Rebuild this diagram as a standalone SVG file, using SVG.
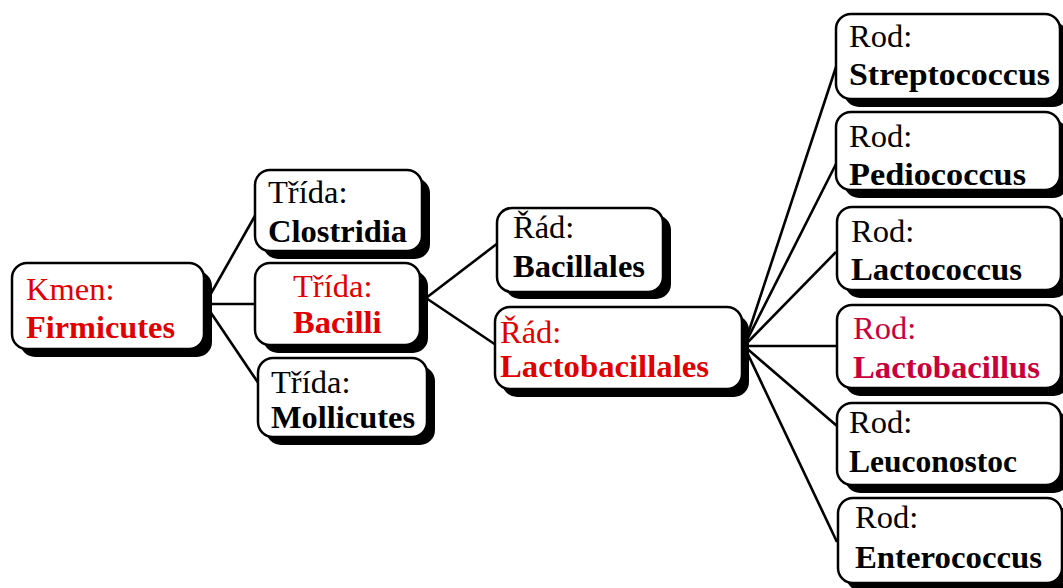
<svg xmlns="http://www.w3.org/2000/svg" width="1063" height="588" viewBox="0 0 1063 588">
<style>
.bx{fill:#fff;stroke:#000;stroke-width:2.5}
.sh{fill:#000}
.t{font-family:"Liberation Serif","Times New Roman",serif;font-size:32.5px;fill:#000}
.b{font-weight:bold}
.r{fill:#e00000}
.m{fill:#c8003c}
.c{stroke:#000;stroke-width:2.6;fill:none}
</style>
<rect width="1063" height="588" fill="#fff"/>
<g id="connectors">
<line class="c" x1="205" y1="304" x2="256" y2="214"/>
<line class="c" x1="205" y1="304" x2="256" y2="304"/>
<line class="c" x1="205" y1="304" x2="259" y2="384"/>
<line class="c" x1="426" y1="298" x2="498" y2="243"/>
<line class="c" x1="426" y1="298" x2="496" y2="345"/>
<line class="c" x1="744" y1="346" x2="837" y2="64"/>
<line class="c" x1="744" y1="346" x2="837" y2="162"/>
<line class="c" x1="744" y1="346" x2="836" y2="252"/>
<line class="c" x1="744" y1="346" x2="837" y2="346"/>
<line class="c" x1="744" y1="346" x2="837" y2="426"/>
<line class="c" x1="744" y1="346" x2="837" y2="542"/>
</g>
<g id="kmen">
<rect class="sh" x="20" y="271" width="192" height="86" rx="15"/>
<rect class="bx" x="12" y="263" width="192" height="86" rx="15"/>
<text class="t r" x="26" y="300">Kmen:</text>
<text class="t b r" x="26" y="338" textLength="149" lengthAdjust="spacingAndGlyphs">Firmicutes</text>
</g>
<g id="clostridia">
<rect class="sh" x="263" y="178" width="167" height="81" rx="15"/>
<rect class="bx" x="255" y="170" width="167" height="81" rx="15"/>
<text class="t" x="268" y="203">Třída:</text>
<text class="t b" x="268" y="242" textLength="139" lengthAdjust="spacingAndGlyphs">Clostridia</text>
</g>
<g id="bacilli">
<rect class="sh" x="263" y="271" width="165" height="82" rx="15"/>
<rect class="bx" x="255" y="263" width="165" height="82" rx="15"/>
<text class="t r" x="293" y="297">Třída:</text>
<text class="t b r" x="293" y="333">Bacilli</text>
</g>
<g id="mollicutes">
<rect class="sh" x="266" y="366" width="169" height="79" rx="15"/>
<rect class="bx" x="258" y="358" width="169" height="79" rx="15"/>
<text class="t" x="271" y="393">Třída:</text>
<text class="t b" x="271" y="428" textLength="144" lengthAdjust="spacingAndGlyphs">Mollicutes</text>
</g>
<g id="bacillales">
<rect class="sh" x="505" y="215" width="166" height="84" rx="15"/>
<rect class="bx" x="497" y="208" width="166" height="84" rx="15"/>
<text class="t" x="513" y="238">Řád:</text>
<text class="t b" x="513" y="277" textLength="132" lengthAdjust="spacingAndGlyphs">Bacillales</text>
</g>
<g id="lactobacillales">
<rect class="sh" x="502" y="315" width="247" height="82" rx="15"/>
<rect class="bx" x="495" y="307" width="247" height="82" rx="15"/>
<text class="t r" x="500" y="343">Řád:</text>
<text class="t b r" x="500" y="377" textLength="209" lengthAdjust="spacingAndGlyphs">Lactobacillales</text>
</g>
<g id="streptococcus">
<rect class="sh" x="844" y="22" width="224" height="85" rx="15"/>
<rect class="bx" x="836" y="14" width="224" height="85" rx="15"/>
<text class="t" x="849" y="47">Rod:</text>
<text class="t b" x="849" y="85" textLength="201" lengthAdjust="spacingAndGlyphs">Streptococcus</text>
</g>
<g id="pediococcus">
<rect class="sh" x="844" y="120" width="224" height="78" rx="15"/>
<rect class="bx" x="836" y="112" width="224" height="78" rx="15"/>
<text class="t" x="849" y="147">Rod:</text>
<text class="t b" x="849" y="185" textLength="177" lengthAdjust="spacingAndGlyphs">Pediococcus</text>
</g>
<g id="lactococcus">
<rect class="sh" x="845" y="215" width="224" height="83" rx="15"/>
<rect class="bx" x="837" y="207" width="224" height="83" rx="15"/>
<text class="t" x="851" y="242">Rod:</text>
<text class="t b" x="851" y="280" textLength="171" lengthAdjust="spacingAndGlyphs">Lactococcus</text>
</g>
<g id="lactobacillus">
<rect class="sh" x="845" y="313" width="224" height="83" rx="15"/>
<rect class="bx" x="837" y="305" width="224" height="83" rx="15"/>
<text class="t m" x="853" y="339">Rod:</text>
<text class="t b m" x="853" y="378" textLength="187" lengthAdjust="spacingAndGlyphs">Lactobacillus</text>
</g>
<g id="leuconostoc">
<rect class="sh" x="845" y="411" width="224" height="82" rx="15"/>
<rect class="bx" x="837" y="403" width="224" height="82" rx="15"/>
<text class="t" x="849" y="433">Rod:</text>
<text class="t b" x="849" y="472" textLength="168" lengthAdjust="spacingAndGlyphs">Leuconostoc</text>
</g>
<g id="enterococcus">
<rect class="sh" x="846" y="506" width="224" height="85" rx="15"/>
<rect class="bx" x="838" y="498" width="224" height="85" rx="15"/>
<text class="t" x="855" y="528">Rod:</text>
<text class="t b" x="855" y="568" textLength="187" lengthAdjust="spacingAndGlyphs">Enterococcus</text>
</g>
</svg>
